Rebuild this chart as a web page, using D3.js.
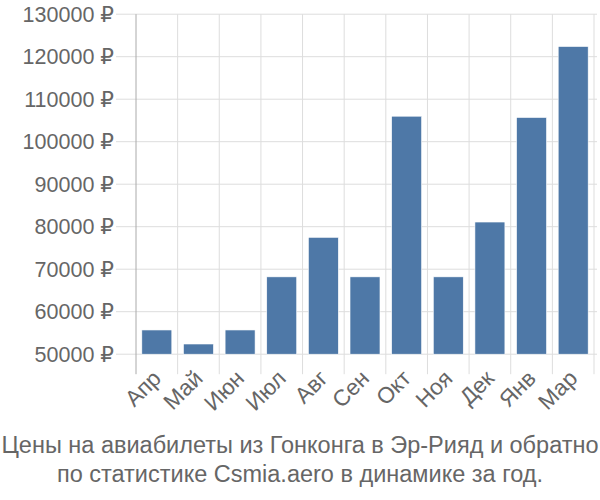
<!DOCTYPE html>
<html><head><meta charset="utf-8">
<script src="https://cdn.jsdelivr.net/npm/d3@7"></script>
<style>body{margin:0;background:#fff}svg{display:block}</style>
</head><body>
<svg id="c" width="600" height="500"></svg>
<script>
const categories = ["Апр","Май","Июн","Июл","Авг","Сен","Окт","Ноя","Дек","Янв","Мар"];
const values = [55700, 52400, 55700, 68200, 77500, 68200, 106000, 68200, 81100, 105700, 122400];
const yTicks = [50000,60000,70000,80000,90000,100000,110000,120000,130000];
const titleLines = ["Цены на авиабилеты из Гонконга в Эр-Рияд и обратно","по статистике Csmia.aero в динамике за год."];

(function(){
const svg = d3.select("#c");
const font = "'Liberation Sans', Arial, 'DejaVu Sans', sans-serif";
const mLeft = 136, mRight = 594, mTop = 14.2, mBottom = 354.2;
const x = d3.scaleBand().domain(categories).range([mLeft, mRight]).paddingInner(0.28).paddingOuter(0.14);
const y = d3.scaleLinear().domain([50000,130000]).range([mBottom, mTop]);

svg.append("g").selectAll("line").data(yTicks).join("line")
  .attr("x1", mLeft-20).attr("x2", mRight+3)
  .attr("y1", d=>y(d)).attr("y2", d=>y(d))
  .attr("stroke","#dddddd").attr("stroke-width",1);
const bounds = d3.range(categories.length+1).map(i=> mLeft + i*(mRight-mLeft)/categories.length);
svg.append("g").selectAll("line").data(bounds.slice(1)).join("line")
  .attr("x1", d=>d).attr("x2", d=>d)
  .attr("y1", mTop).attr("y2", mBottom+20)
  .attr("stroke","#dddddd").attr("stroke-width",1);

svg.append("g").selectAll("rect").data(values).join("rect")
  .attr("x",(d,i)=>x(categories[i]))
  .attr("width", x.bandwidth())
  .attr("y", d=>y(d))
  .attr("height", d=>mBottom - y(d))
  .attr("fill","#4e78a7")
  .attr("stroke","#ffffff").attr("stroke-width",0.6);

svg.append("line").attr("x1",mLeft).attr("x2",mLeft).attr("y1",mTop).attr("y2",mBottom+20)
  .attr("stroke","#aaaaaa").attr("stroke-width",1);

svg.append("g").selectAll("text").data(yTicks).join("text")
  .attr("x", 114).attr("y", d=>y(d)).attr("dy","0.35em")
  .attr("text-anchor","end")
  .attr("font-family",font).attr("font-size",21.5).attr("fill","#666666")
  .text(d=>d+" ₽");

svg.append("g").selectAll("text").data(categories).join("text")
  .attr("transform", d=>`translate(${x(d)+x.bandwidth()/2},${mBottom+20}) rotate(-45)`)
  .attr("text-anchor","end").attr("dy","0.35em")
  .attr("font-family",font).attr("font-size",22.5).attr("fill","#666666")
  .text(d=>d);

svg.append("g").selectAll("text").data(titleLines).join("text")
  .attr("x",300).attr("y",(d,i)=>453+i*29)
  .attr("text-anchor","middle")
  .attr("font-family",font).attr("font-size",23.5).attr("fill","#666666")
  .text(d=>d);
})();
</script>
</body></html>
